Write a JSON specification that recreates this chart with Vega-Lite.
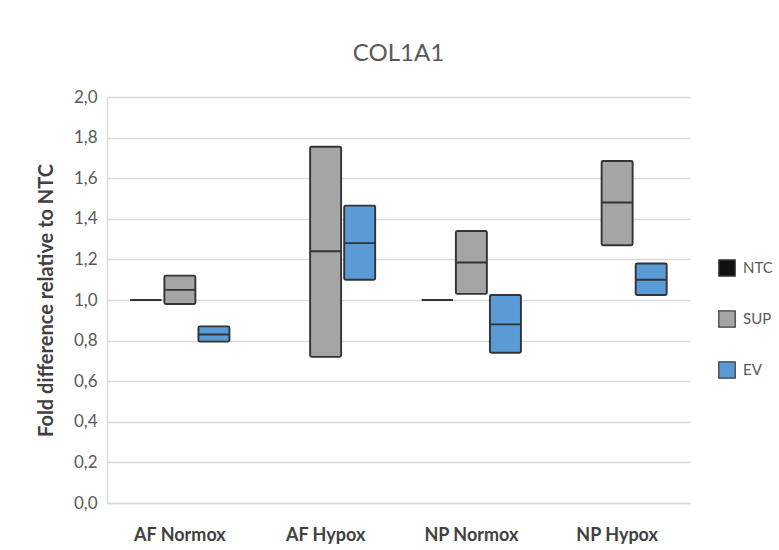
{
  "$schema": "https://vega.github.io/schema/vega-lite/v6.json",
  "width": 583,
  "height": 406,
  "autosize": {"type": "none"},
  "padding": {"left": 107, "top": 97, "right": 89, "bottom": 47},
  "background": "white",
  "title": {
    "text": "COL1A1",
    "font": "Lato",
    "fontSize": 24,
    "fontWeight": "normal",
    "color": "#595959",
    "anchor": "middle",
    "offset": 22
  },
  "data": {
    "values": [
      {"group": "AF Normox", "series": "NTC", "low": 1.0, "high": 1.0, "median": 1.0},
      {"group": "AF Normox", "series": "SUP", "low": 0.98, "high": 1.12, "median": 1.05},
      {"group": "AF Normox", "series": "EV", "low": 0.795, "high": 0.87, "median": 0.83},
      {"group": "AF Hypox", "series": "SUP", "low": 0.72, "high": 1.755, "median": 1.24},
      {"group": "AF Hypox", "series": "EV", "low": 1.1, "high": 1.465, "median": 1.28},
      {"group": "NP Normox", "series": "NTC", "low": 1.0, "high": 1.0, "median": 1.0},
      {"group": "NP Normox", "series": "SUP", "low": 1.03, "high": 1.34, "median": 1.185},
      {"group": "NP Normox", "series": "EV", "low": 0.74, "high": 1.025, "median": 0.88},
      {"group": "NP Hypox", "series": "SUP", "low": 1.27, "high": 1.685, "median": 1.48},
      {"group": "NP Hypox", "series": "EV", "low": 1.025, "high": 1.18, "median": 1.1}
    ]
  },
  "encoding": {
    "x": {
      "field": "group",
      "type": "nominal",
      "sort": ["AF Normox", "AF Hypox", "NP Normox", "NP Hypox"],
      "scale": {"paddingInner": 0.32, "paddingOuter": 0.16},
      "axis": {
        "title": null,
        "labelAngle": 0,
        "labelFont": "Lato",
        "labelFontSize": 18,
        "labelFontWeight": "bold",
        "labelColor": "#404040",
        "labelPadding": 23,
        "ticks": false,
        "domainColor": "#d9d9d9",
        "domainWidth": 1.5
      }
    },
    "xOffset": {
      "field": "series",
      "type": "nominal",
      "sort": ["NTC", "SUP", "EV"],
      "scale": {"domain": ["NTC", "SUP", "EV"], "paddingInner": 0.09, "paddingOuter": 0}
    },
    "color": {
      "field": "series",
      "type": "nominal",
      "sort": ["NTC", "SUP", "EV"],
      "scale": {"domain": ["NTC", "SUP", "EV"], "range": ["#111111", "#a5a5a5", "#5b9bd5"]},
      "legend": {
        "title": null,
        "orient": "none",
        "legendX": 611,
        "legendY": 162,
        "symbolType": "square",
        "symbolSize": 270,
        "symbolStrokeColor": "#404040",
        "symbolStrokeWidth": 1.3,
        "rowPadding": 29,
        "labelOffset": 7,
        "labelFont": "Lato",
        "labelFontSize": 15,
        "labelColor": "#595959"
      }
    }
  },
  "layer": [
    {
      "mark": {"type": "bar", "stroke": "#333333", "strokeWidth": 1.9, "cornerRadius": 1.5},
      "encoding": {
        "y": {
          "field": "low",
          "type": "quantitative",
          "scale": {"domain": [0, 2], "nice": false},
          "axis": {
            "title": "Fold difference relative to NTC",
            "titleFont": "Lato",
            "titleFontSize": 20,
            "titleFontWeight": "bold",
            "titleColor": "#404040",
            "titlePadding": 17,
            "values": [0, 0.2, 0.4, 0.6, 0.8, 1.0, 1.2, 1.4, 1.6, 1.8, 2.0],
            "labelExpr": "replace(format(datum.value, '.1f'), '.', ',')",
            "labelFont": "Lato",
            "labelFontSize": 17,
            "labelColor": "#595959",
            "labelPadding": 10,
            "ticks": false,
            "domainColor": "#d9d9d9",
            "domainWidth": 1.5,
            "gridColor": "#d9d9d9",
            "gridWidth": 1.5
          }
        },
        "y2": {"field": "high"}
      }
    },
    {
      "mark": {"type": "bar", "stroke": "#333333", "strokeWidth": 1.9, "fillOpacity": 0},
      "encoding": {
        "y": {"field": "median", "type": "quantitative"},
        "y2": {"field": "median"}
      }
    }
  ],
  "config": {"view": {"stroke": null}}
}
